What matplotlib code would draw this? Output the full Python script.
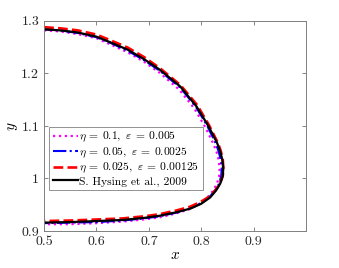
import numpy as np
import matplotlib
matplotlib.use('Agg')
import matplotlib.pyplot as plt

plt.rcParams['font.family'] = 'serif'
plt.rcParams['font.serif'] = ['cmr10']
plt.rcParams['mathtext.fontset'] = 'cm'
plt.rcParams['axes.unicode_minus'] = False

# interface shapes (upper branch -> nose -> lower branch)
x_hysing = [0.500, 0.530, 0.564, 0.600, 0.627, 0.660, 0.691, 0.721, 0.760, 0.791, 0.814,
            0.830, 0.836, 0.840, 0.842, 0.841, 0.836, 0.828, 0.817, 0.800, 0.780, 0.754,
            0.720, 0.691, 0.650, 0.602, 0.550, 0.500]
y_hysing = [1.284, 1.282, 1.278, 1.270, 1.259, 1.245, 1.227, 1.207, 1.175, 1.137, 1.099,
            1.068, 1.052, 1.036, 1.020, 1.005, 0.990, 0.977, 0.964, 0.952, 0.943, 0.936,
            0.929, 0.925, 0.921, 0.919, 0.917, 0.916]

x_eta01 = [0.500, 0.530, 0.564, 0.600, 0.627, 0.660, 0.691, 0.721, 0.758, 0.787, 0.808,
           0.823, 0.829, 0.833, 0.835, 0.834, 0.830, 0.822, 0.811, 0.796, 0.776, 0.750,
           0.720, 0.691, 0.650, 0.602, 0.550, 0.500]
y_eta01 = [1.282, 1.280, 1.275, 1.267, 1.255, 1.240, 1.222, 1.201, 1.169, 1.133, 1.097,
           1.066, 1.051, 1.036, 1.020, 1.005, 0.990, 0.976, 0.963, 0.951, 0.941, 0.933,
           0.926, 0.922, 0.918, 0.915, 0.913, 0.913]

x_eta005 = [0.500, 0.530, 0.564, 0.600, 0.627, 0.660, 0.691, 0.721, 0.760, 0.790, 0.812,
            0.827, 0.833, 0.837, 0.839, 0.838, 0.834, 0.826, 0.815, 0.798, 0.778, 0.752,
            0.720, 0.691, 0.650, 0.602, 0.550, 0.500]
y_eta005 = [1.284, 1.282, 1.277, 1.269, 1.258, 1.243, 1.225, 1.205, 1.173, 1.136, 1.099,
            1.068, 1.052, 1.036, 1.020, 1.005, 0.990, 0.977, 0.964, 0.952, 0.943, 0.935,
            0.928, 0.924, 0.920, 0.917, 0.916, 0.915]

x_eta0025 = [0.500, 0.530, 0.564, 0.600, 0.627, 0.660, 0.691, 0.721, 0.760, 0.792, 0.815,
             0.831, 0.837, 0.841, 0.842, 0.841, 0.836, 0.828, 0.816, 0.798, 0.778, 0.752,
             0.720, 0.691, 0.650, 0.602, 0.550, 0.500]
y_eta0025 = [1.288, 1.286, 1.282, 1.274, 1.263, 1.249, 1.231, 1.210, 1.178, 1.140, 1.101,
             1.069, 1.053, 1.036, 1.020, 1.005, 0.991, 0.979, 0.966, 0.955, 0.946, 0.939,
             0.932, 0.928, 0.924, 0.922, 0.920, 0.919]

labels = [r'$\eta\:=\:0.1,\ \varepsilon\:=\:0.005$',
          r'$\eta\:=\:0.05,\ \varepsilon\:=\:0.0025$',
          r'$\eta\:=\:0.025,\ \varepsilon\:=\:0.00125$',
          'S. Hysing et al., 2009']

fig = plt.figure(figsize=(3.39, 2.68), dpi=100)
ax = fig.add_axes([0.130, 0.138, 0.773, 0.784])

ax.plot(x_eta01, y_eta01, color='#ff00ff', ls=':', lw=1.6, label=labels[0])
ax.plot(x_eta005, y_eta005, color='#0000ff', ls='-.', lw=1.5, label=labels[1])
ax.plot(x_eta0025, y_eta0025, color='#ff0000', ls='--', lw=1.9, label=labels[2])
ax.plot(x_hysing, y_hysing, color='black', ls='-', lw=1.6, label=labels[3])

ax.set_xlim(0.5, 1.0)
ax.set_ylim(0.9, 1.3)
ax.set_xticks([0.5, 0.6, 0.7, 0.8, 0.9])
ax.set_xticklabels(['0.5', '0.6', '0.7', '0.8', '0.9'])
ax.set_yticks([0.9, 1.0, 1.1, 1.2, 1.3])
ax.set_yticklabels(['0.9', '1', '1.1', '1.2', '1.3'])
ax.tick_params(direction='in', length=3, width=0.6, colors='0.45', labelcolor='#262626',
               labelsize=10, top=True, right=True)
for s in ax.spines.values():
    s.set_color('0.5')
    s.set_linewidth(0.7)

ax.set_xlabel('$x$', fontsize=11, labelpad=0)
ax.set_ylabel('$y$', fontsize=11, labelpad=1)

leg = ax.legend(loc='lower left', bbox_to_anchor=(0.02, 0.195), fontsize=8.3,
                handlelength=2.2, handletextpad=0.1, borderpad=0.3, labelspacing=0.1,
                borderaxespad=0, fancybox=False, framealpha=1, edgecolor='0.5')
leg.get_frame().set_linewidth(0.6)

fig.savefig('out.png', dpi=100)
